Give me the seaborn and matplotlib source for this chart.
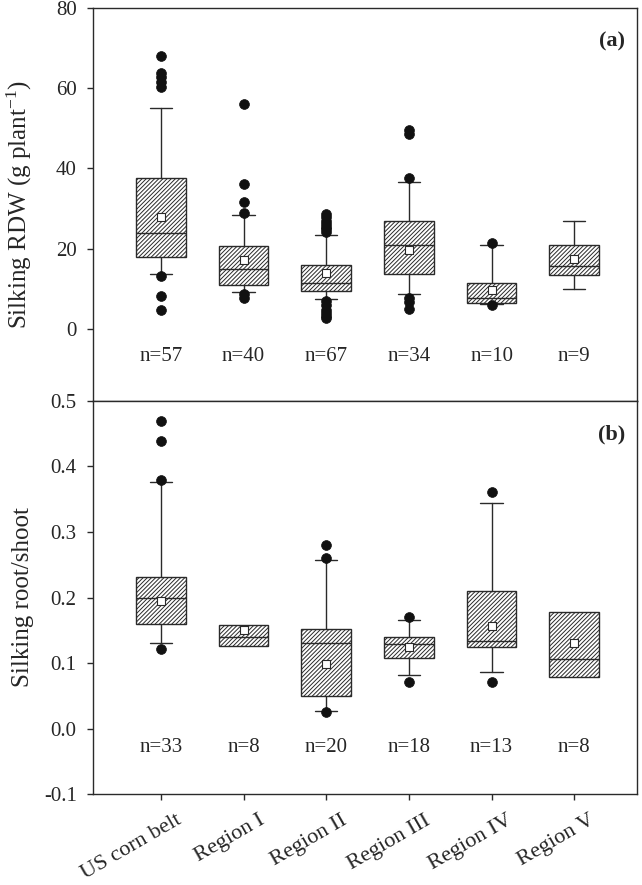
import numpy as np
import pandas as pd
import matplotlib
matplotlib.use("Agg")
import matplotlib.pyplot as plt
import matplotlib.transforms as mtransforms
import seaborn as sns

# ---------------- data ----------------
categories = ["US corn belt", "Region I", "Region II", "Region III", "Region IV", "Region V"]

# Panel (a): Silking RDW (g plant-1)
rdw_n = [57, 40, 67, 34, 10, 9]
rdw_q1 = [17.9, 11.0, 9.4, 13.6, 6.4, 13.5]
rdw_med = [23.9, 15.0, 11.5, 20.9, 7.7, 15.7]
rdw_q3 = [37.6, 20.7, 15.8, 26.9, 11.5, 20.9]
rdw_p10 = [13.6, 9.1, 7.5, 8.6, 6.2, 10.0]
rdw_p90 = [55.1, 28.4, 23.4, 36.7, 20.8, 26.9]
rdw_mean = [27.9, 17.2, 13.9, 19.7, 9.7, 17.5]
rdw_out = [
    [68.1, 63.9, 62.8, 61.5, 60.2, 13.1, 8.1, 4.6],
    [56.0, 36.1, 31.5, 28.9, 8.6, 7.8],
    [28.6, 27.8, 27.0, 26.2, 25.5, 24.8, 24.2, 7.0, 6.0, 4.8, 4.0, 3.2, 2.8],
    [49.6, 48.5, 37.6, 7.8, 6.8, 5.0],
    [21.3, 6.0],
    [],
]
rdw_yticks = [0, 20, 40, 60, 80]

# Panel (b): Silking root/shoot
rs_n = [33, 8, 20, 18, 13, 8]
rs_q1 = [0.160, 0.126, 0.050, 0.107, 0.125, 0.078]
rs_med = [0.200, 0.140, 0.130, 0.1285, 0.133, 0.106]
rs_q3 = [0.231, 0.158, 0.152, 0.140, 0.210, 0.178]
rs_p10 = [0.131, None, 0.026, 0.082, 0.086, None]
rs_p90 = [0.376, None, 0.258, 0.166, 0.345, None]
rs_mean = [0.194, 0.150, 0.099, 0.125, 0.156, 0.130]
rs_out = [
    [0.470, 0.439, 0.379, 0.121],
    [],
    [0.280, 0.261, 0.025],
    [0.171, 0.071],
    [0.361, 0.071],
    [],
]
rs_yticks = [-0.1, 0.0, 0.1, 0.2, 0.3, 0.4, 0.5]

# ---------------- style ----------------
sns.set_theme(style="ticks")
plt.rcParams["font.family"] = ["Liberation Serif", "DejaVu Serif"]
plt.rcParams["mathtext.fontset"] = "custom"
plt.rcParams["mathtext.rm"] = "Liberation Serif"
plt.rcParams["mathtext.it"] = "Liberation Serif:italic"
plt.rcParams["axes.unicode_minus"] = False
plt.rcParams["hatch.linewidth"] = 0.7
plt.rcParams["hatch.color"] = "#333333"

EDGE = "#2a2a2a"

fig = plt.figure(figsize=(6.42, 8.85), dpi=100)
ax_a = fig.add_axes([0.1449, 0.5469, 0.8474, 0.4441])
ax_b = fig.add_axes([0.1449, 0.1028, 0.8474, 0.4441])

positions = list(range(len(categories)))


def draw_panel(ax, q1, med, q3, p10, p90, mean, outs, ns, ylim, yticks, yfmt, ylabel, tag, ny):
    stats = []
    for i, c in enumerate(categories):
        lo = p10[i] if p10[i] is not None else q1[i]
        hi = p90[i] if p90[i] is not None else q3[i]
        stats.append(dict(label=c, q1=q1[i], med=med[i], q3=q3[i],
                          whislo=lo, whishi=hi, fliers=[]))
    res = ax.bxp(stats, positions=positions, widths=0.6, capwidths=0.27,
                 patch_artist=True, showfliers=False, manage_ticks=False,
                 boxprops=dict(facecolor="white", edgecolor=EDGE, hatch="////////", linewidth=1.0),
                 medianprops=dict(color=EDGE, linewidth=1.0),
                 whiskerprops=dict(color=EDGE, linewidth=1.0),
                 capprops=dict(color=EDGE, linewidth=1.0))
    for i in range(len(categories)):
        if p10[i] is None:
            res["caps"][2 * i].set_visible(False)
            res["whiskers"][2 * i].set_visible(False)
        if p90[i] is None:
            res["caps"][2 * i + 1].set_visible(False)
            res["whiskers"][2 * i + 1].set_visible(False)

    out_df = pd.DataFrame([(i, v) for i, vals in enumerate(outs) for v in vals],
                          columns=["pos", "value"])
    if len(out_df):
        sns.scatterplot(data=out_df, x="pos", y="value", ax=ax, color="#111111",
                        s=50, marker="o", edgecolor="#111111", linewidth=0.5,
                        legend=False, zorder=5)
    mean_df = pd.DataFrame({"pos": positions, "value": mean})
    sns.scatterplot(data=mean_df, x="pos", y="value", ax=ax, color="white",
                    s=30, marker="s", edgecolor=EDGE, linewidth=0.8,
                    legend=False, zorder=6)

    for i, n in enumerate(ns):
        ax.text(i, ny, f"n={n}", ha="center", va="center", fontsize=15)

    ax.set_xlim(-0.82, 5.76)
    ax.set_ylim(*ylim)
    ax.set_yticks(yticks)
    ax.set_yticklabels([yfmt.format(t) for t in yticks])
    ax.set_xticks(positions)
    ax.set_xlabel("")
    ax.set_ylabel(ylabel, fontsize=18)
    ax.yaxis.set_label_coords(-0.108, 0.5)
    ax.text(0.978, 0.915, tag, transform=ax.transAxes, ha="right", va="center",
            fontsize=16, fontweight="bold")
    for sp in ax.spines.values():
        sp.set_visible(True)
        sp.set_color(EDGE)
        sp.set_linewidth(1.0)
    ax.tick_params(axis="both", direction="out", length=4.3, width=1.0,
                   color=EDGE, labelsize=15, pad=7.5)
    ax.tick_params(axis="x", pad=8)


draw_panel(ax_a, rdw_q1, rdw_med, rdw_q3, rdw_p10, rdw_p90, rdw_mean, rdw_out, rdw_n,
           (-18, 80), rdw_yticks, "{:d}", r"Silking RDW (g plant$^{-1}$)", "(a)", -7.0)
draw_panel(ax_b, rs_q1, rs_med, rs_q3, rs_p10, rs_p90, rs_mean, rs_out, rs_n,
           (-0.1, 0.5), rs_yticks, "{:.1f}", "Silking root/shoot", "(b)", -0.029)

ax_a.set_xticklabels([""] * len(categories))
ax_b.set_xticklabels(categories, rotation=30, ha="right", va="top",
                     rotation_mode="anchor", fontsize=16)
shift = mtransforms.ScaledTranslation(0.15, 0.0, fig.dpi_scale_trans)
for lab in ax_b.get_xticklabels():
    lab.set_transform(lab.get_transform() + shift)

fig.savefig("out.png", dpi=100)
